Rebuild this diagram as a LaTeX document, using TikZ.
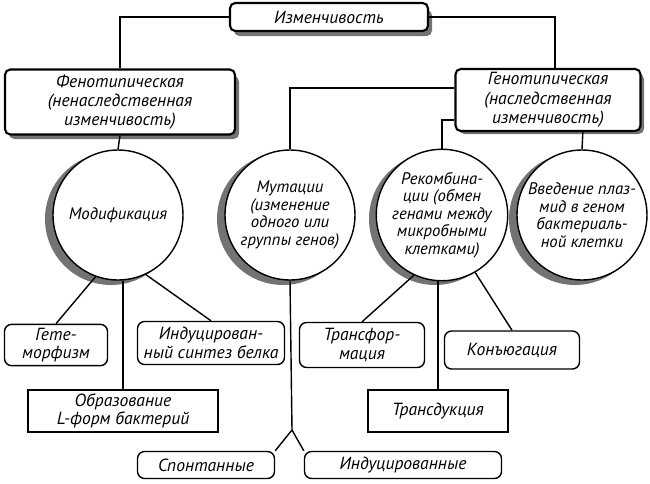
\documentclass[tikz,border=0pt]{standalone}
\usepackage{fontspec}
\setmainfont{PT Sans}
\usetikzlibrary{positioning}

\begin{document}
\begin{tikzpicture}[x=0.02cm,y=-0.02cm]
	% Define styles
	\tikzstyle{bigbox} = [rectangle, draw, very thick, fill=white, rounded corners=3pt,
	text centered, font=\itshape\fontsize{10}{11}\selectfont, inner sep=2pt]
	\tikzstyle{smallbox} = [rectangle, draw, thick, fill=white, rounded corners=4pt,
	text centered, font=\itshape\fontsize{10}{10.5}\selectfont, align=center, inner sep=2pt]
	\tikzstyle{plainbox} = [smallbox, rounded corners=0pt]
	\tikzstyle{disc} = [circle, draw, thick, fill=white, minimum size=2.6cm, inner sep=0pt,
	text centered, font=\itshape\fontsize{9.5}{10}\selectfont, align=center]
	\tikzstyle{link} = [thick]
	\tikzstyle{shade} = [fill=black!55]
	
	\useasboundingbox (0,0) rectangle (650,484);
	
	% Shadows
	\fill [shade, rounded corners=3pt] (234,10) rectangle (432,36);
	\fill [shade, rounded corners=3pt] (9,76) rectangle (239,139);
	\fill [shade, rounded corners=3pt] (459,74) rectangle (644,134);
	\foreach \cx in {118,290,442,582}
		\fill [shade] (\cx-7,219) circle (1.32cm);
	
	% Place nodes
	\node [bigbox, minimum width=3.96cm, minimum height=0.56cm] (root) at (329,17) {Изменчивость};
	\node [bigbox, minimum width=4.6cm, minimum height=1.3cm, align=center] (pheno) at (120,102)
		{Фенотипическая\\(ненаследственная\\изменчивость)};
	\node [bigbox, minimum width=3.7cm, minimum height=1.24cm, align=center] (geno) at (548,100)
		{Генотипическая\\(наследственная\\изменчивость)};
	\node [disc] (modif) at (118,215) {Модификация};
	\node [disc] (mutat) at (290,215) {Мутации\\(изменение\\одного или\\группы генов)};
	\node [disc] (recomb) at (442,215) {Рекомбина-\\ции (обмен\\генами между\\микробными\\клетками)};
	\node [disc] (plasmid) at (582,215) {Введение плаз-\\мид в геном\\бактериаль-\\ной клетки};
	\node [smallbox, minimum width=2.06cm, minimum height=0.82cm] (hetero) at (56,345) {Гете-\\морфизм};
	\node [smallbox, minimum width=2.94cm, minimum height=0.86cm] (protein) at (211,343) {Индуцирован-\\ный синтез белка};
	\node [plainbox, minimum width=3.8cm, minimum height=0.84cm] (lform) at (123,411) {Образование\\L-форм бактерий};
	\node [smallbox, minimum width=2.5cm, minimum height=0.9cm] (transf) at (362,345) {Трансфор-\\мация};
	\node [smallbox, minimum width=2.7cm, minimum height=0.76cm] (conj) at (512,350) {Конъюгация};
	\node [plainbox, minimum width=2.8cm, minimum height=0.84cm] (transd) at (438,411) {Трансдукция};
	\node [smallbox, minimum width=2.74cm, minimum height=0.54cm] (spont) at (206,465) {Спонтанные};
	\node [smallbox, minimum width=3.94cm, minimum height=0.54cm] (induc) at (403,465) {Индуцированные};
	\coordinate (fork) at (292,430);
	
	% Draw lines
	\draw [link] (root.west) -| (pheno.north);
	\draw [link] (root.east) -| (555,68);
	\draw [link] (pheno.south) -- (modif.north);
	\draw [link] (geno.west |- 0,88) -| (mutat.north);
	\draw [link] (geno.west |- 0,120) -| (recomb.north);
	\draw [link] (583,130) -- (plasmid.north);
	\draw [link] (modif.250) -- (hetero.north);
	\draw [link] (modif.south -| lform.north) -- (lform.north);
	\draw [link] (modif.295) -- (protein.north);
	\draw [link] (mutat.south) -- (fork);
	\draw [link] (fork) -- (spont.north east);
	\draw [link] (fork) -- (induc.north west);
	\draw [link] (recomb.245) -- (transf.north);
	\draw [link] (recomb.south -| transd.north) -- (transd.north);
	\draw [link] (recomb.300) -- (conj.north);
\end{tikzpicture}
\end{document}
